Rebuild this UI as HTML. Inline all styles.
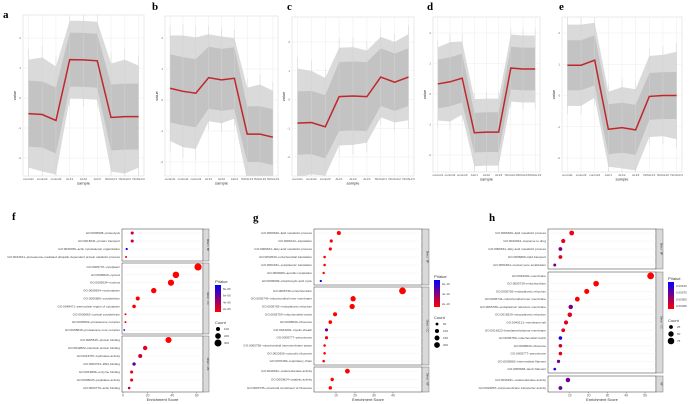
<!DOCTYPE html>
<html><head><meta charset="utf-8">
<style>
html,body{margin:0;padding:0;background:#fff;}
svg{display:block;font-family:"Liberation Sans",sans-serif;}
.pl{font-family:"Liberation Serif",serif;font-weight:bold;font-size:11px;fill:#000;}
</style></head>
<body>
<svg id="fig" width="689" height="404" viewBox="0 0 689 404" xmlns="http://www.w3.org/2000/svg"></svg>
<script>
// ---------- top line panels data ----------
const samples = ["control1","control2","control3","ALF1","ALF2","ALF3","ISOALF1","ISOALF2","ISOALF3"];
const yTicks = [-2,-1,0,1,2];
const meanA = [-0.52,-0.55,-0.75,1.28,1.27,1.24,-0.65,-0.62,-0.62];
const meanB = [0.38,0.28,0.22,0.72,0.65,0.70,-1.10,-1.10,-1.20];
const meanC = [-0.82,-0.80,-0.95,0.10,0.12,0.10,0.78,0.60,0.78];
const meanD = [0.33,0.40,0.52,-1.27,-1.25,-1.25,0.85,0.82,0.82];
const meanE = [0.97,0.97,1.13,-1.08,-1.03,-1.10,-0.03,0.00,0.00];
const outerA = [1.8,1.9,1.8,1.3,1.3,1.3,1.8,1.9,1.7];
const outerB = [1.7,1.8,1.8,1.4,1.4,1.3,1.5,1.6,1.5];
const outerC = [1.9,1.8,1.7,1.7,1.7,1.6,1.4,1.4,1.5];
const outerD = [1.2,1.3,1.2,1.1,1.1,1.1,1.1,1.1,1.1];
const outerE = [1.3,1.3,1.2,1.2,1.3,1.3,1.3,1.3,1.4];
const innerA = [1.1,1.1,1.1,0.9,0.9,0.9,1.1,1.1,1.1];
const innerB = [1.1,1.1,1.1,1.0,1.0,1.0,0.9,0.9,0.9];
const innerC = [1.1,1.1,1.1,1.2,1.2,1.2,1.0,1.0,1.0];
const innerD = [0.8,0.8,0.8,0.65,0.65,0.65,0.7,0.7,0.7];
const innerE = [0.8,0.8,0.8,0.8,0.8,0.8,0.75,0.75,0.75];

// ---------- dot plot data ----------
const fTerms = [
 ["GO:0006508~proteolysis","GO:0015031~protein transport","GO:0030036~actin cytoskeleton organization","GO:0043161~proteasome-mediated ubiquitin-dependent protein catabolic process"],
 ["GO:0005737~cytoplasm","GO:0005829~cytosol","GO:0005634~nucleus","GO:0005654~nucleoplasm","GO:0005856~cytoskeleton","GO:0048471~perinuclear region of cytoplasm","GO:0030863~cortical cytoskeleton","GO:0000502~proteasome complex","GO:0005839~proteasome core complex"],
 ["GO:0005515~protein binding","GO:0042802~identical protein binding","GO:0016787~hydrolase activity","GO:0003723~RNA binding","GO:0019899~enzyme binding","GO:0008233~peptidase activity","GO:0003779~actin binding"]];
const fScore = [[7.5,7.5,3,2.5],[61,43,39,25,12,9,2,2,1],[37,18,14,9,7,7,5]];
const fP = [[0.2,0.2,0.95,0.1],[0,0,0,0,0,0,0,0,0.9],[0,0.1,0.2,0.7,0.1,0.1,0.3]];
const fCount = [[60,60,30,25],[320,260,240,180,100,80,25,25,15],[230,120,100,70,60,60,40]];
const gTerms = [
 ["GO:0006629~lipid metabolic process","GO:0006412~translation","GO:0006631~fatty acid metabolic process","GO:0032543~mitochondrial translation","GO:0002181~cytoplasmic translation","GO:0009060~aerobic respiration","GO:0006099~tricarboxylic acid cycle"],
 ["GO:0005739~mitochondrion","GO:0005743~mitochondrial inner membrane","GO:0005783~endoplasmic reticulum","GO:0005759~mitochondrial matrix","GO:0005840~ribosome","GO:0043209~myelin sheath","GO:0005777~peroxisome","GO:0005758~mitochondrial intermembrane space","GO:0022626~cytosolic ribosome","GO:0070469~respiratory chain"],
 ["GO:0016491~oxidoreductase activity","GO:0003824~catalytic activity","GO:0003735~structural constituent of ribosome"]];
const gScore = [[11.5,7.5,7,4,4,3.5,2],[45,19,18.5,9.5,7,5,5,4,4,3.5],[16,8,7]];
const gP = [[0,0,0,0,0,0,0.95],[0,0,0,0,0,0.6,0.1,0,0,0],[0,0,0]];
const gCount = [[100,60,60,40,40,35,30],[280,170,170,100,80,60,60,40,40,40],[140,70,70]];
const hTerms = [
 ["GO:0006629~lipid metabolic process","GO:0042493~response to drug","GO:0006631~fatty acid metabolic process","GO:0006869~lipid transport","GO:0051664~nuclear pore localization"],
 ["GO:0016020~membrane","GO:0005739~mitochondrion","GO:0005783~endoplasmic reticulum","GO:0005743~mitochondrial inner membrane","GO:0005789~endoplasmic reticulum membrane","GO:0016529~sarcoplasmic reticulum","GO:0045121~membrane raft","GO:0016323~basolateral plasma membrane","GO:0005759~mitochondrial matrix","GO:0005840~ribosome","GO:0005777~peroxisome","GO:0005882~intermediate filament","GO:0005638~lamin filament"],
 ["GO:0016491~oxidoreductase activity","GO:0022857~transmembrane transporter activity"]];
const hScore = [[11,6.5,5,5,2],[53,24,19,14,10.5,10,8,6.5,5,5,5,4,2],[9,5]];
const hP = [[0.05,0.1,0.5,0.1,0.6],[0,0,0,0,0.55,0.1,0.1,0.1,0.9,0.2,0.1,0.6,0.9],[0.55,0.6]];
const hCount = [[40,30,25,25,15],[80,55,45,40,35,35,30,25,22,22,22,18,12],[35,25]];

const NS="http://www.w3.org/2000/svg";
const svg=document.getElementById('fig');
function mk(tag,attrs,parent){const e=document.createElementNS(NS,tag);for(const k in attrs)e.setAttribute(k,attrs[k]);(parent||svg).appendChild(e);return e;}
function txt(x,y,s,size,anchor,parent,fill){const t=mk('text',{x:x,y:y,'font-size':size,'text-anchor':anchor||'start',fill:fill||'#333'},parent);t.textContent=s;return t;}

function linePanel(id,label,lx,ly,x0,x1,y0,y1,yAt2,yAtM2,mean,outer,inner){
  const g=mk('g',{});
  
  
  const L=txt(lx,ly,label,11,'start',g,'#000'); L.setAttribute('class','pl');
  
  
  const fr=mk('rect',{x:x0,y:y0,width:x1-x0,height:y1-y0,fill:'#fff',stroke:'#ddd','stroke-width':0.6},g);
  
  
  const defs=mk('defs',{},g);
  const cp=mk('clipPath',{id:'clip'+id},defs);
  mk('rect',{x:x0,y:y0,width:x1-x0,height:y1-y0},cp);
  const pad=(x1-x0)*0.045;
  const xs=i=>x0+pad+i*(x1-x0-2*pad)/(samples.length-1);
  const ys=v=>yAtM2+(v+2)*(yAt2-yAtM2)/4;
  yTicks.forEach(v=>{
    mk('line',{x1:x0,x2:x1,y1:ys(v),y2:ys(v),stroke:'#ececec','stroke-width':0.5},g);
    const t=txt(x0-2,ys(v)+1.1,String(v),3,'end',g,'#666');
    
    
  });
  samples.forEach((s,i)=>{
    mk('line',{x1:xs(i),x2:xs(i),y1:y0,y2:y1,stroke:'#ececec','stroke-width':0.5},g);
    const t=txt(xs(i),y1+4,s,3,'middle',g,'#555');
    
    
  });
  const xt=txt((x0+x1)/2,y1+8.5,'sample',4,'middle',g,'#333');
  
  
  const yt=txt(0,0,'value',4,'middle',g,'#333');
  yt.setAttribute('transform','translate('+(x0-7)+','+((y0+y1)/2)+') rotate(-90)');
  
  
  const cg=mk('g',{'clip-path':'url(#clip'+id+')'},g);
  function band(sp,fill,nm){
    let up=mean.map((m,i)=>xs(i)+','+ys(m+sp[i]));
    let dn=mean.map((m,i)=>xs(i)+','+ys(m-sp[i])).reverse();
    const p=mk('polygon',{points:up.concat(dn).join(' '),fill:fill},cg);
    
    
  }
  band(outer,'#dadada','gene-lines-outer');
  band(inner,'#c3c3c3','gene-lines-core');
  mean.forEach((m,i)=>{
    mk('line',{x1:xs(i),x2:xs(i),y1:ys(m+outer[i]*1.2),y2:ys(m-outer[i]*1.2),stroke:'#d3d3d3','stroke-width':0.5},cg);
  });
  const pl=mk('polyline',{points:mean.map((m,i)=>xs(i)+','+ys(m)).join(' '),fill:'none',stroke:'#c0262b','stroke-width':1.5},g);
  
  
}
linePanel('a','a',3,18,23,144,15,176,38,158,meanA,outerA,innerA);
linePanel('b','b',152,10,165,278,16,176,38,162,meanB,outerB,innerB);
linePanel('c','c',287,10,292,414,17,176,42,157,meanC,outerC,innerC);
linePanel('d','d',427,10,433,540,17,172,33,155,meanD,outerD,innerD);
linePanel('e','e',559,10,562,682,17,172,33,158,meanE,outerE,innerE);

function pcol(f){const r=Math.round(255*(1-f)),b=Math.round(255*f);return 'rgb('+r+',0,'+b+')';}

function dotPanel(id,label,lx,ly,x0,x1,sx1,zeroX,perUnit,facets,xtickVals,terms,scores,ps,counts,rmax,cmax,legX,legPY,pLabels,countY,countVals,stripNames){
  const g=mk('g',{});
  
  
  const L=txt(lx,ly,label,11,'start',g,'#000'); L.setAttribute('class','pl');
  
  
  const xs=v=>zeroX+v*perUnit;
  const rs=c=>Math.max(0.9,rmax*Math.sqrt(c/cmax));
  facets.forEach((fc,fi)=>{
    const [y0,y1]=fc;
    const r=mk('rect',{x:x0,y:y0,width:x1-x0,height:y1-y0,fill:'#fff',stroke:'#555','stroke-width':0.6},g);
    
    
    const st=mk('rect',{x:x1,y:y0,width:sx1-x1,height:y1-y0,fill:'#d9d9d9',stroke:'#555','stroke-width':0.4},g);
    
    
    const stt=txt(0,0,stripNames[fi],2.6,'middle',g,'#333');
    stt.setAttribute('transform','translate('+((x1+sx1)/2+1)+','+((y0+y1)/2)+') rotate(90)');
    
    
    const n=terms[fi].length;
    const step=(y1-y0)/n;
    terms[fi].forEach((t,i)=>{
      const y=y0+step*(i+0.5);
      mk('line',{x1:x0,x2:x1,y1:y,y2:y,stroke:'#eee','stroke-width':0.4},g);
      const tl=txt(x0-2,y+1,t,3.1,'end',g,'#444');
      
      
      const c=mk('circle',{cx:xs(scores[fi][i]),cy:y,r:rs(counts[fi][i]),fill:pcol(ps[fi][i])},g);
      
      
    });
  });
  const yb=facets[facets.length-1][1];
  xtickVals.forEach(v=>{
    mk('line',{x1:xs(v),x2:xs(v),y1:yb,y2:yb+1.5,stroke:'#555','stroke-width':0.4},g);
    const t=txt(xs(v),yb+4.5,String(v),3.3,'middle',g,'#555');
    
    
  });
  const xt=txt((x0+x1)/2,yb+9,'Enrichment Score',4,'middle',g,'#333');
  
  
  const pt=txt(legX,legPY-2,'PValue',4,'start',g,'#333');
  
  
  const gid='grad'+id;
  const defs=mk('defs',{},g);
  const lg=mk('linearGradient',{id:gid,x1:0,y1:0,x2:0,y2:1},defs);
  mk('stop',{offset:'0','stop-color':'#0000ff'},lg);
  mk('stop',{offset:'1','stop-color':'#ff0000'},lg);
  const cb=mk('rect',{x:legX,y:legPY,width:6,height:27,fill:'url(#'+gid+')'},g);
  
  
  pLabels.forEach((s,i)=>{
    const y=legPY+4+i*(20/(pLabels.length-1||1));
    txt(legX+8,y+1,s,3,'start',g,'#444');
  });
  const ct=txt(legX,countY,'Count',4,'start',g,'#333');
  
  
  countVals.forEach((c,i)=>{
    const y=countY+5+i*7;
    mk('circle',{cx:legX+3,cy:y,r:rs(c),fill:'#000'},g);
    txt(legX+9,y+1,String(c),3,'start',g,'#444');
  });
}
dotPanel('f','f',12,220,122,203,209,123,1.23,[[229,261],[263,334],[336,392]],[0,20,40,60],fTerms,fScore,fP,fCount,3.6,320,215,285,['8e-06','6e-06','4e-06','2e-06'],324,[100,200,300],['Direct - BP','Direct - CC','Direct - MF']);
dotPanel('g','g',253,221,314,422,429,317,1.9,[[229,285],[287,365],[367,392]],[10,20,30,40],gTerms,gScore,gP,gCount,3.4,280,434,280,['6e-10','4e-10','2e-10'],319,[50,100,150,200],['Direct - BP','Direct - CC','Direct - MF']);
dotPanel('h','h',489,221,548,656,663,551,1.88,[[229,269],[272,373],[376,392]],[10,20,30,40,50],hTerms,hScore,hP,hCount,3.4,80,668,282,['0.00100','0.00075','0.00050','0.00025'],322,[25,50,75],['Direct - BP','Direct - CC','MF']);
</script>
</body></html>
